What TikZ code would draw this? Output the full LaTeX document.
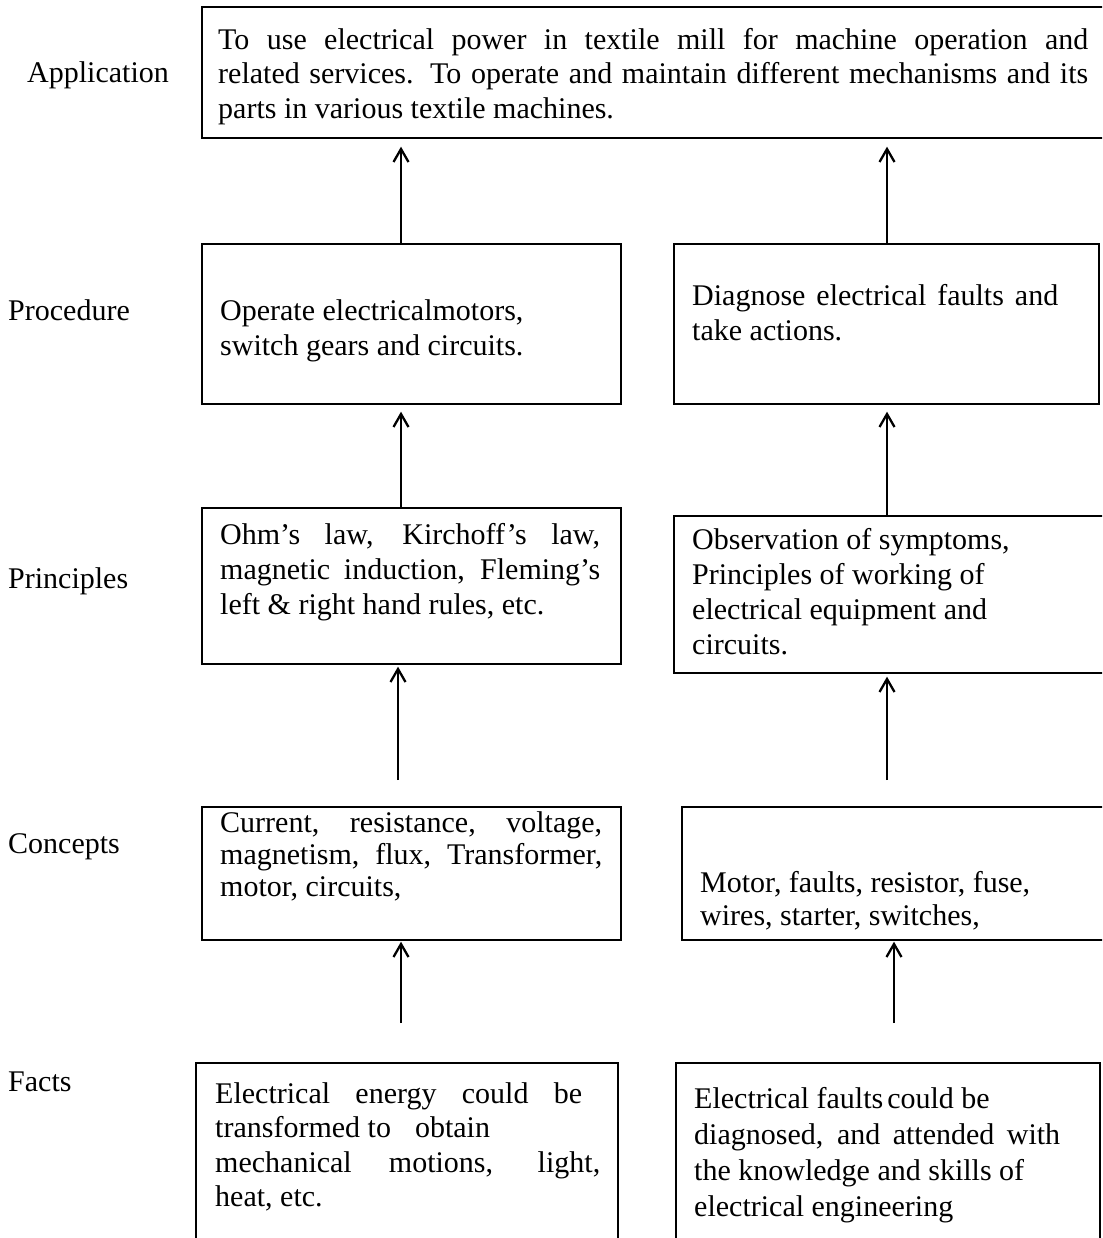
\documentclass[tikz,border=0pt]{standalone}
\usepackage{fontspec}
\setmainfont{Liberation Serif}
\usetikzlibrary{arrows.meta}

% strut that fixes the height of the first line of a text block
\newcommand\firststrut{\rule{0pt}{24pt}}

\begin{document}
\begin{tikzpicture}[x=1pt,y=-1pt,
  box/.style={draw, line width=1.7pt, inner sep=0pt, anchor=north west},
  txt/.style={anchor=north west, inner sep=0pt, align=left},
  lbl/.style={anchor=base west, inner sep=0pt, font=\fontsize{30}{34.5}\selectfont},
  arr/.style={line width=2.3pt, -{Straight Barb[length=13pt,width=15pt,line width=2.3pt]}}]

\clip (0,0) rectangle (1102,1238);

% level labels
\node[lbl] (lapp) at (27,83)  {Application};
\node[lbl] (lpro) at (8,320)  {Procedure};
\node[lbl] (lpri) at (8,588)  {Principles};
\node[lbl] (lcon) at (8,853)  {Concepts};
\node[lbl] (lfac) at (8,1091) {Facts};

% boxes
\node[box, minimum width=920pt, minimum height=131pt] (app) at (201,6) {};
\node[box, minimum width=419pt, minimum height=160pt] (pl)  at (201,243) {};
\node[box, minimum width=425pt, minimum height=160pt] (pr)  at (673,243) {};
\node[box, minimum width=419pt, minimum height=156pt] (ql)  at (201,507) {};
\node[box, minimum width=440pt, minimum height=157pt] (qr)  at (673,515) {};
\node[box, minimum width=419pt, minimum height=133pt] (cl)  at (201,806) {};
\node[box, minimum width=440pt, minimum height=133pt] (cr)  at (681,806) {};
\node[box, minimum width=422pt, minimum height=200pt] (fl)  at (195,1062) {};
\node[box, minimum width=424pt, minimum height=200pt] (fr)  at (675,1062) {};

% texts
\node[txt, font=\fontsize{30}{34.5}\selectfont] (tapp) at (218,25) {%
  \firststrut\makebox[870pt][s]{To use electrical power in textile mill for machine operation and}\\
  \makebox[870pt][s]{related services. To operate and maintain different mechanisms and its}\\
  parts in various textile machines.};

\node[txt, font=\fontsize{30}{35}\selectfont] (tpl) at (220,296) {%
  \firststrut Operate electricalmotors,\\
  switch gears and circuits.};

\node[txt, font=\fontsize{30}{35}\selectfont] (tpr) at (692,281) {%
  \firststrut\makebox[366pt][s]{Diagnose electrical faults and}\\
  take actions.};

\node[txt, font=\fontsize{30}{35}\selectfont] (tql) at (220,520) {%
  \firststrut\makebox[380pt][s]{Ohm’s law, Kirchoff’s law,}\\
  \makebox[380pt][s]{magnetic induction, Fleming’s}\\
  left \& right hand rules, etc.};

\node[txt, font=\fontsize{30}{35}\selectfont] (tqr) at (692,525) {%
  \firststrut Observation of symptoms,\\
  Principles of working of\\
  electrical equipment and\\
  circuits.};

\node[txt, font=\fontsize{30}{32}\selectfont] (tcl) at (220,808) {%
  \firststrut\makebox[382pt][s]{Current, resistance, voltage,}\\
  \makebox[382pt][s]{magnetism, flux, Transformer,}\\
  motor, circuits,};

\node[txt, font=\fontsize{30}{33}\selectfont] (tcr) at (700,868) {%
  \firststrut Motor, faults, resistor, fuse,\\
  wires, starter, switches,};

\node[txt, font=\fontsize{30}{34.5}\selectfont] (tfl) at (215,1079) {%
  \firststrut\makebox[367pt][s]{Electrical energy could be}\\
  transformed to\hspace{24pt}obtain\\
  \makebox[385pt][s]{mechanical motions, light,}\\
  heat, etc.};

\node[txt, font=\fontsize{30}{36}\selectfont] (tfr) at (694,1084) {%
  \firststrut Electrical faults\hspace{4pt}could be\\
  \makebox[366pt][s]{diagnosed, and attended with}\\
  the knowledge and skills of\\
  electrical engineering};

% arrow columns
\coordinate (xa) at (401,0);
\coordinate (xb) at (887,0);
\coordinate (xc) at (398,0);
\coordinate (xd) at (894,0);

% connectors
\draw[arr, shorten >=8pt] (pl.north -| xa) -- (app.south -| xa);
\draw[arr, shorten >=8pt] (pr.north -| xb) -- (app.south -| xb);
\draw[arr, shorten >=7pt] (ql.north -| xa) -- (pl.south -| xa);
\draw[arr, shorten >=7pt] (qr.north -| xb) -- (pr.south -| xb);
\draw[arr, shorten <=26pt, shorten >=2pt] (cl.north -| xc) -- (ql.south -| xc);
\draw[arr, shorten <=26pt, shorten >=3pt] (cr.north -| xb) -- (qr.south -| xb);
\draw[arr, shorten <=39pt, shorten >=1pt] (fl.north -| xa) -- (cl.south -| xa);
\draw[arr, shorten <=39pt, shorten >=1pt] (fr.north -| xd) -- (cr.south -| xd);
\end{tikzpicture}
\end{document}
